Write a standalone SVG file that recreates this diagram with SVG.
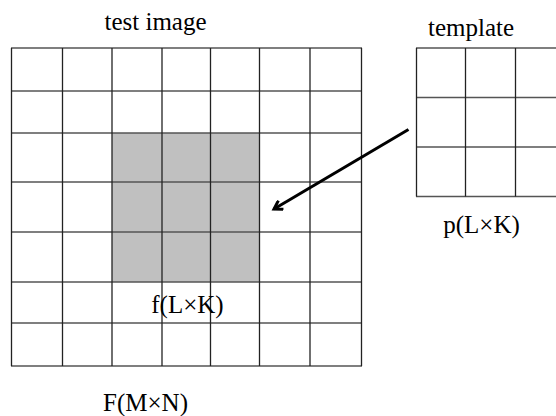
<svg xmlns="http://www.w3.org/2000/svg" width="556" height="416" viewBox="0 0 556 416">
<style>
.t{font-family:"Liberation Serif","Times New Roman",serif;font-size:25px;fill:#000}
.h{stroke:#555;stroke-width:1.6}
.v{stroke:#222;stroke-width:1.3}
</style>
<defs>
<marker id="ah" markerWidth="12" markerHeight="12" refX="9" refY="6" orient="auto" markerUnits="userSpaceOnUse" viewBox="0 0 12 12">
<path d="M1,1 L9,6 L1,11" fill="none" stroke="#000" stroke-width="3"/>
</marker>
</defs>
<rect width="556" height="416" fill="#fff"/>
<g id="test-image">
<rect x="112" y="133" width="147.5" height="149" fill="#c0c0c0"/>
<g class="h">
<line x1="11" y1="48" x2="362" y2="48"/>
<line x1="11" y1="91" x2="362" y2="91"/>
<line x1="11" y1="133" x2="362" y2="133"/>
<line x1="11" y1="182" x2="362" y2="182"/>
<line x1="11" y1="232" x2="362" y2="232"/>
<line x1="11" y1="282" x2="362" y2="282"/>
<line x1="11" y1="323" x2="362" y2="323"/>
<line x1="11" y1="366" x2="362" y2="366"/>
</g>
<g class="v">
<line x1="11.5" y1="48" x2="11.5" y2="366"/>
<line x1="62.5" y1="48" x2="62.5" y2="366"/>
<line x1="112" y1="48" x2="112" y2="366"/>
<line x1="162" y1="48" x2="162" y2="366"/>
<line x1="210.5" y1="48" x2="210.5" y2="366"/>
<line x1="259.5" y1="48" x2="259.5" y2="366"/>
<line x1="310" y1="48" x2="310" y2="366"/>
<line x1="361.5" y1="48" x2="361.5" y2="366"/>
</g>
<text class="t" x="155.5" y="30" text-anchor="middle">test image</text>
<text class="t" x="187.5" y="313" text-anchor="middle">f(L×K)</text>
<text class="t" x="145.5" y="411" text-anchor="middle">F(M×N)</text>
</g>
<g id="template">
<g class="h">
<line x1="416" y1="48" x2="556" y2="48"/>
<line x1="416" y1="97.5" x2="556" y2="97.5"/>
<line x1="416" y1="147" x2="556" y2="147"/>
<line x1="416" y1="196.5" x2="556" y2="196.5"/>
</g>
<g class="v">
<line x1="416.5" y1="48" x2="416.5" y2="196.5"/>
<line x1="465.5" y1="48" x2="465.5" y2="196.5"/>
<line x1="515.5" y1="48" x2="515.5" y2="196.5"/>
</g>
<text class="t" x="428" y="36">template</text>
<text class="t" x="481.5" y="233" text-anchor="middle">p(L×K)</text>
</g>
<g id="connectors">
<line x1="408.5" y1="129.5" x2="274" y2="209" stroke="#000" stroke-width="3" marker-end="url(#ah)"/>
</g>
</svg>
